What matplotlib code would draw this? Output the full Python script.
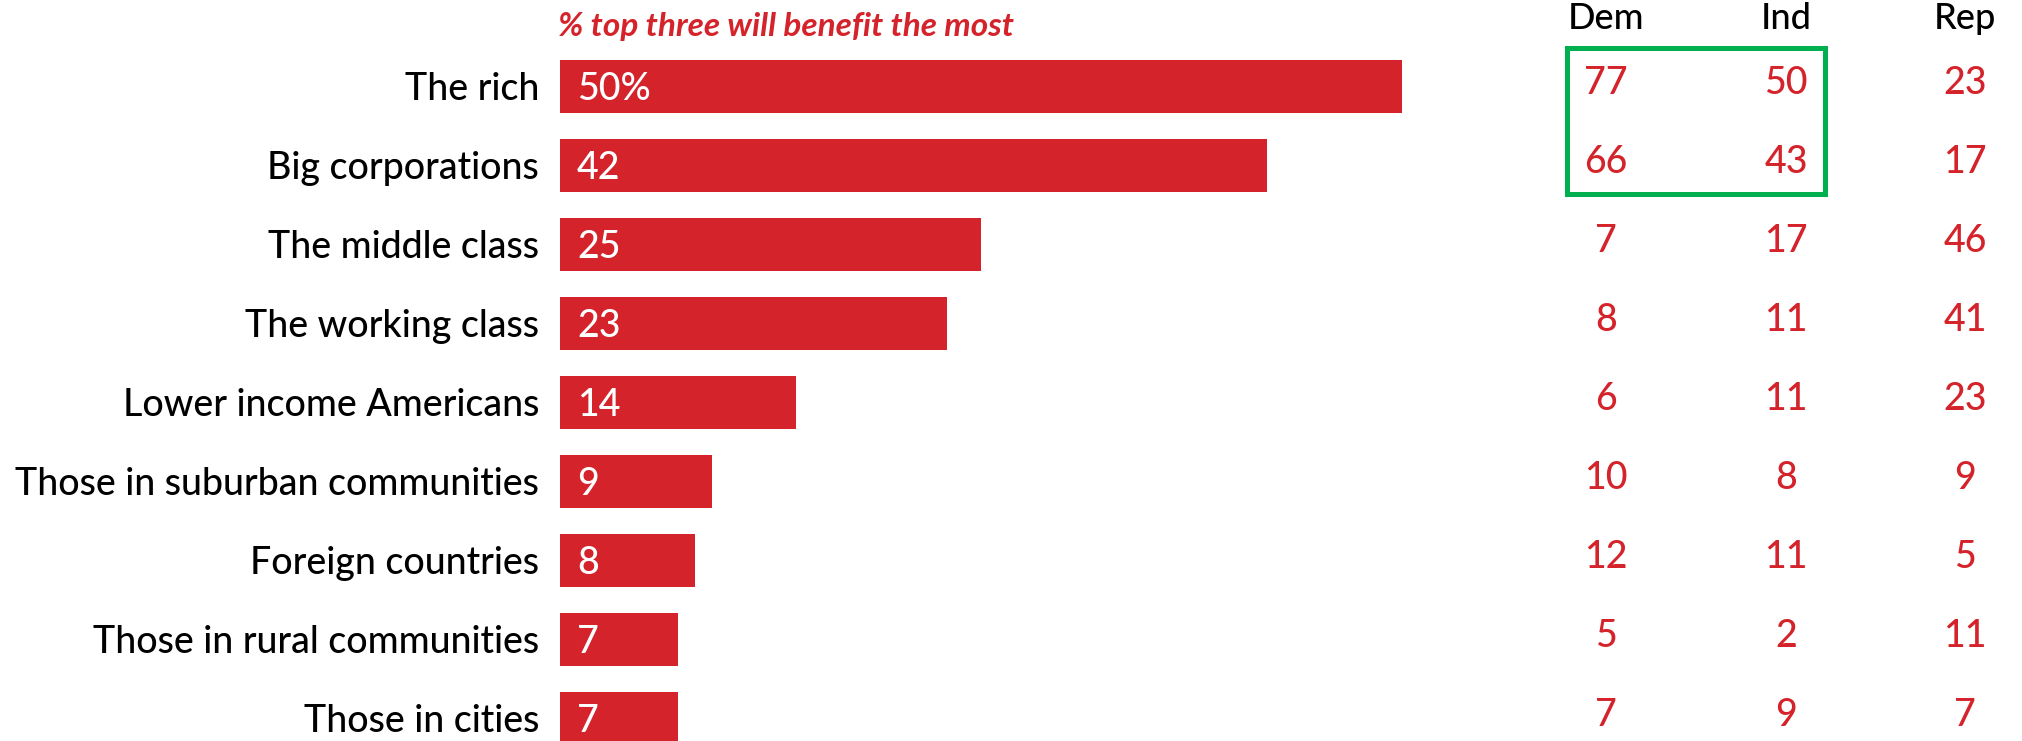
import matplotlib
matplotlib.use("Agg")
import matplotlib.pyplot as plt
from matplotlib.transforms import blended_transform_factory
from matplotlib.patches import Rectangle

categories = ["The rich", "Big corporations", "The middle class", "The working class",
              "Lower income Americans", "Those in suburban communities",
              "Foreign countries", "Those in rural communities", "Those in cities"]
total = [50, 42, 25, 23, 14, 9, 8, 7, 7]
dem = [77, 66, 7, 8, 6, 10, 12, 5, 7]
ind = [50, 43, 17, 11, 11, 8, 11, 2, 9]
rep = [23, 17, 46, 41, 23, 9, 5, 11, 7]
value_labels = ["50%", "42", "25", "23", "14", "9", "8", "7", "7"]
title = "% top three will benefit the most"
col_headers = ["Dem", "Ind", "Rep"]

RED = "#D4232A"
GREEN = "#00B050"
FONT = ["Lato", "DejaVu Sans"]
plt.rcParams["font.family"] = FONT

W, H = 2022, 741
fig = plt.figure(figsize=(W / 100, H / 100), dpi=100)
x0 = 560
ppu = 16.84
xmax = (W - x0) / ppu
ax = fig.add_axes([x0 / W, 0, 1 - x0 / W, 1])
pitch = 79.0
first = 86.0
ax.set_xlim(0, xmax)
ax.set_ylim((H - first) / pitch, -first / pitch)
ax.axis("off")

ypos = list(range(len(categories)))
ax.barh(ypos, total, height=53 / pitch, color=RED, left=0)

for i, (cat, lab) in enumerate(zip(categories, value_labels)):
    ax.text(-21 / ppu, i + 3 / pitch, cat, ha="right", va="center", fontsize=27,
            fontweight="medium", color="black")
    ax.text(17 / ppu, i + 3 / pitch, lab, ha="left", va="center", fontsize=27,
            fontweight="medium", color="white")

ax.text(-2 / ppu, (26 - first) / pitch, title, ha="left", va="center", fontsize=24,
        color=RED, fontweight="bold", fontstyle="italic")

tr = blended_transform_factory(fig.transFigure, ax.transData)
col_x = [1606 / W, 1786 / W, 1965 / W]
for cx, hdr, vals in zip(col_x, col_headers, [dem, ind, rep]):
    ax.text(cx, (18 - first) / pitch, hdr, ha="center", va="center", fontsize=26,
            fontweight="medium", color="black", transform=tr)
    for i, v in enumerate(vals):
        ax.text(cx, i - 3 / pitch, str(v), ha="center", va="center", fontsize=27,
                fontweight="medium", color=RED, transform=tr)

box = Rectangle((1567 / W, 1 - 194 / H), (1825 - 1567) / W, (194 - 48) / H,
                transform=fig.transFigure, fill=False, edgecolor=GREEN, linewidth=3.6)
fig.patches.append(box)

fig.savefig("out.png", dpi=100)
